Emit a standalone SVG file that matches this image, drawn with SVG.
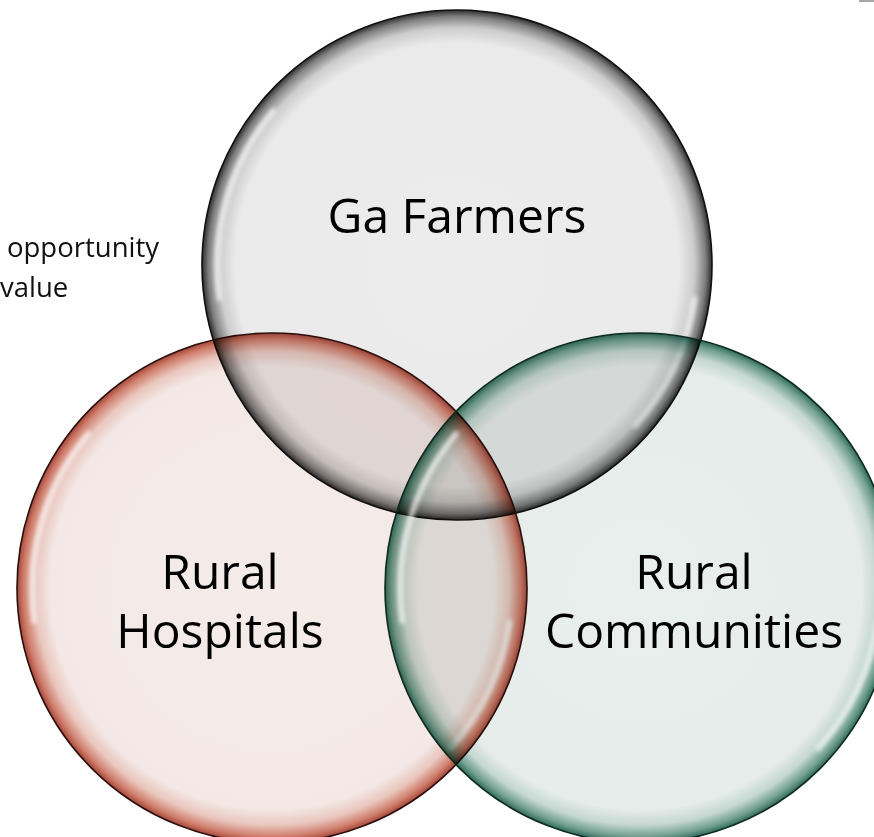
<svg xmlns="http://www.w3.org/2000/svg" width="874" height="837" viewBox="0 0 874 837">
<style>
.fillc{mix-blend-mode:multiply}
.rim{fill:none;stroke-width:1.6}
.hl{fill:none;stroke:#ffffff;stroke-width:5;stroke-linecap:round;opacity:0.75;filter:url(#blur)}
.big{font-family:"Open Sans","Liberation Sans",sans-serif;font-size:48px;fill:#000;text-anchor:middle}
.small{font-family:"Open Sans","Liberation Sans",sans-serif;font-size:27.5px;fill:#111}
</style>
<defs>
<filter id="blur" x="-20%" y="-20%" width="140%" height="140%"><feGaussianBlur stdDeviation="2"/></filter>
<radialGradient id="gTop" cx="0.5" cy="0.5" r="0.5">
<stop offset="0" stop-color="#ececec"/>
<stop offset="0.87" stop-color="#eaeaea"/>
<stop offset="0.93" stop-color="#cdcdcd"/>
<stop offset="0.975" stop-color="#7e7e7e"/>
<stop offset="1" stop-color="#2e2e2e"/>
</radialGradient>
<radialGradient id="gLeft" cx="0.5" cy="0.5" r="0.5">
<stop offset="0" stop-color="#f5ece9"/>
<stop offset="0.87" stop-color="#f3e8e5"/>
<stop offset="0.93" stop-color="#e9c6bd"/>
<stop offset="0.975" stop-color="#cf7d6b"/>
<stop offset="1" stop-color="#a4463a"/>
</radialGradient>
<radialGradient id="gRight" cx="0.5" cy="0.5" r="0.5">
<stop offset="0" stop-color="#e9efed"/>
<stop offset="0.87" stop-color="#e6ecea"/>
<stop offset="0.93" stop-color="#c4d7d0"/>
<stop offset="0.975" stop-color="#709e8f"/>
<stop offset="1" stop-color="#2f6a58"/>
</radialGradient>
</defs>
<rect x="0" y="0" width="874" height="837" fill="#ffffff"/>
<rect x="859" y="0" width="15" height="2" fill="#a6a6a6"/>
<g id="side-note">
<text class="small" x="7" y="257">opportunity</text>
<text class="small" x="0" y="297">value</text>
</g>
<g id="ga-farmers">
<circle class="fillc" cx="457" cy="265" r="255" fill="url(#gTop)"/>
<circle class="rim" cx="457" cy="265" r="255" stroke="#111111"/>
<path class="hl" d="M273.2,110.7 A240,240 0 0 0 219.3,298.4"/>
<path class="hl" d="M694.7,298.4 A240,240 0 0 1 635.3,425.6"/>
</g>
<g id="rural-hospitals">
<circle class="fillc" cx="272" cy="588" r="255" fill="url(#gLeft)"/>
<circle class="rim" cx="272" cy="588" r="255" stroke="#2b0f0a"/>
<path class="hl" d="M88.2,433.7 A240,240 0 0 0 34.3,621.4"/>
<path class="hl" d="M509.7,621.4 A240,240 0 0 1 450.3,748.6"/>
</g>
<g id="rural-communities">
<circle class="fillc" cx="640" cy="588" r="255" fill="url(#gRight)"/>
<circle class="rim" cx="640" cy="588" r="255" stroke="#0e2a22"/>
<path class="hl" d="M456.2,433.7 A240,240 0 0 0 402.3,621.4"/>
<path class="hl" d="M877.7,621.4 A240,240 0 0 1 818.3,748.6"/>
</g>
<g id="labels">
<text class="big" x="457" y="233">Ga Farmers</text>
<text class="big" x="220" y="589">Rural</text>
<text class="big" x="220" y="648">Hospitals</text>
<text class="big" x="694" y="589">Rural</text>
<text class="big" x="694" y="648">Communities</text>
</g>
</svg>
